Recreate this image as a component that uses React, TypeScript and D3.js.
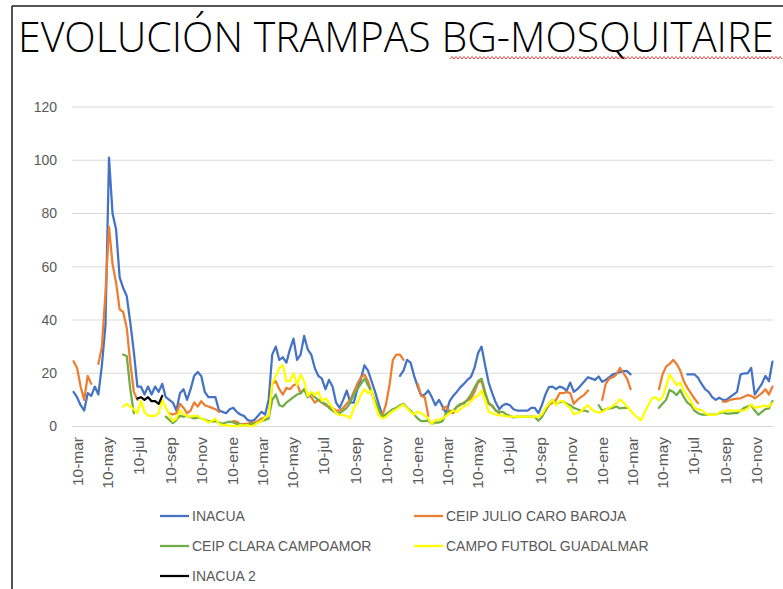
import * as d3 from "d3"

// Meses en castellano para las etiquetas del eje
const MESES = ["ene", "feb", "mar", "abr", "may", "jun", "jul", "ago", "sep", "oct", "nov", "dic"]

// Muestreo semanal, desde el 3 de marzo
const SEMANA_INICIAL = new Date(2016, 2, 3)
const N_SEMANAS = 198

const nulos = (n: number) => Array(n).fill(null)

const inacua = [
  13, 11, 8, 6, 12.5, 11.5, 15, 12, 23, 38,
  101, 80, 74, 56, 52, 49, 39, 28, 15, 15,
  12, 15, 12, 15, 13, 16, 11, 10, 9, 6,
  12.5, 14, 10, 14, 19, 20.5, 19, 13, 11, 11,
  11, 6, 5.5, 5, 6.5, 7, 5.5, 4.5, 4, 2.5,
  2, 2.5, 4, 5.5, 4.5, 10, 27, 30, 25, 26,
  24, 29, 33, 25, 27, 34, 29, 27, 22, 19,
  18, 14, 17.5, 15, 9, 7, 10, 13.5, 9, 9,
  14, 18, 23, 21, 17, 13, 8.5, 4.5, null, null,
  null, null, 19, 21, 25, 24, 19, 15, 11.5, 12,
  13.5, 11, 8, 10, 7.5, 5, 9.5, 11.5, 13, 14.7,
  16, 17.5, 18.6, 22, 27.5, 30, 23, 16.5, 12.5, 9,
  6.5, 8, 8.5, 8, 6.5, 6, 6, 6, 6, 7,
  7, 5, 8, 12, 14.8, 15, 14, 15, 14.5, 13.5,
  16.5, 13, 14, 15.5, 17, 18.5, 18, 17.5, 18.8, 16.8,
  17.5, 18.5, 19.6, 20, 20.4, 20.8, 20.8, 19.6, null, null,
  ...nulos(10),
  null, null, null, 19.6, 19.6, 19.6, 18.3, 16, 14, 13,
  11, 10, 10.8, 10, 10, 11, 12, 13, 19.5, 20,
  20, 22, 12, 14, 16, 19, 17, 24.4,
]

const ceipJulioCaroBaroja = [
  24.5, 22, 15, 10, 19, 16, null, 23.5, 30, 50,
  75, 61, 54, 44, 43, 37, 24, 13, 10, null,
  ...nulos(7), 5, 4.5, 5,
  8.5, 7, 5, 6, 9, 7.5, 9.5, 8, 7.5, 7,
  6.5, 5.5, null, null, null, 2, 1.8, 0.8, 1, 1,
  1.5, 1.5, 2, 3, 3.5, 4, 16, 17, 14, 12,
  14.5, 14, 15.5, 16, 12.5, 14, 12, 11, 9, 10,
  9, 8, 7.5, 7, 6, 6, 7, 8.5, 10, 13,
  16, 18.5, 19.5, 17, 13, 8.5, 5.5, 4, 8, 15,
  25, 27, 27, 25, null, null, null, 16, 11.5, 11,
  4, null, null, null, 6.5, 7.5, 5.5, 5, 7.5, 8,
  9, 9.8, 10.5, 13, 16.5, 17, 12, 9, 7.5, 6,
  5, ...nulos(9),
  null, null, null, 6, 8, 9, 10, 12.5, 12.5, 13,
  12.5, 8.5, 10, 11, 12, 13.5, null, null, null, 10,
  16, 18, 18.5, 19.5, 22, 20, 18, 14, null, null,
  ...nulos(5), 14, 19.5, 22.5, 23.5, 25,
  23.5, 21, 17, 14.5, 12.5, 10.5, 8.8, null, null, null,
  null, null, null, 9.3, 9.3, 10, 10.3, 10.5, 10.6, 11.2,
  11.8, 11.5, 10.6, 11.5, 12.5, 14, 12, 15,
]

const ceipClaraCampoamor = [
  ...nulos(10),
  null, null, null, null, 27, 26.5, 14, 5, null, null,
  ...nulos(6), 3.7, 2.5, 1.3, 2.5,
  4, 3.7, 4, 3.5, 3, 3.4, 3, 2.6, 2, 1.8,
  2, 1.5, 1, 1.5, 1.8, 1.5, 1, 0.8, 0.5, 0.5,
  1, 1, 1.5, 2, 2.5, 3, 10, 12, 8, 7.5,
  9, 10, 11, 12, 12.5, 14, 11, 12.5, 11, 10,
  9, 8.5, 7, 6, 5, 5, 6, 7, 9, 12,
  14, 16, 18, 15.5, 13, 9.5, 6.5, 3.5, 4.5, 5.5,
  6.5, 7, 8, 8.5, 7, 6, 4.5, 3, 2, 2,
  2.3, 1, 1.5, 1.5, 2, 5, 5.8, 6, 7.3, 8.5,
  8.6, 10, 12, 14.5, 17, 18, 13, 8.5, 8, 6,
  5.5, 5.5, 4.5, 4, 3.4, 3.7, 3.7, 3.7, 3.7, 3.7,
  3.7, 2.2, 3.5, 6, 8.6, 10, 8.5, 9, 9.5, 8.5,
  8, 7, 6.5, 6, 6, 5.6, null, null, 8, 6,
  6.5, 6.8, 7, 7.5, 6.8, 7, 7, null, null, null,
  ...nulos(5), 7, 8.5, 10, 13.7, 13,
  11.8, 13.7, 11, 9, 8, 6, 5, 4.5, 4.5, 4.5,
  4.5, 4.5, 5, 5.3, 4.8, 4.8, 5, 5, 6, 7,
  7.5, 8, 6, 4.4, 5.5, 6.5, 6.8, 9.6,
]

const campoFutbolGuadalmar = [
  ...nulos(10),
  null, null, null, null, 7.5, 8.5, 7.5, 6.5, 5, 9.5,
  5.5, 4, 4, 4, 5, 10, 7, 4.5, 2, 3,
  6, 4.5, 4, 3.7, 4, 4, 3, 2.5, 1.5, 2,
  3, 1, 0.5, 0.5, 0.3, 0.2, 0, 0.5, 0.3, 0.5,
  0, 0.5, 1.5, 2, 3.5, 4, 16, 19, 22, 23,
  17, 17, 20, 15.5, 19.5, 17, 11.5, 13, 11.8, 13,
  9.6, 10.5, 9, 7, 5, 4.3, 4.3, 4, 3, 7,
  9, 12, 14, 12.5, 13.5, 8, 4.3, 3, 3.5, 4.8,
  5.8, 6.5, 7.5, 8.3, 6.8, 5.5, 4.5, 5.6, 5, 4,
  3, 1, 2.5, 2.5, 3, 4, 5, 6, 5.5, 6.5,
  7.5, 8, 9.5, 11, 11.5, 13.5, 10, 5.5, 5, 4.5,
  4.2, 4.2, 3.8, 3.7, 3.7, 3.7, 3.7, 3.7, 3.7, 3.7,
  3.7, 3.7, 4.5, 7, 8.5, 10, 8, 9.5, 9.5, 8,
  7, 4.6, 5, 5.6, 7, 8, 6.5, 5.6, 5.3, 5.5,
  6.3, 7, 7.8, 8.6, 10.2, 9, 7.5, 6, 4.5, 3.3,
  2.3, 5.5, 8, 10.5, 11, 9.8, 11, 15, 19.5, 17.5,
  15.5, 16.5, 13.5, 11.5, 9.5, 7, 6.5, 6.2, 5, 4.4,
  4.4, 4.4, 5.3, 5.6, 6, 6, 6, 6, 6, 6,
  6.8, 8.3, 7, 7.3, 7.6, 7.8, 7.5, 8.8,
]

const inacua2 = [
  ...nulos(18),
  10.5, 11, 10, 11, 9.5, 9.5, 8.5, 11.5,
  ...nulos(N_SEMANAS - 26),
]

const SERIES = [
  { nombre: "INACUA", valores: inacua, color: "#4472C4" },
  { nombre: "CEIP JULIO CARO BAROJA", valores: ceipJulioCaroBaroja, color: "#ED7D31" },
  { nombre: "CEIP CLARA CAMPOAMOR", valores: ceipClaraCampoamor, color: "#70AD47" },
  { nombre: "CAMPO FUTBOL GUADALMAR", valores: campoFutbolGuadalmar, color: "#FFFF00" },
  { nombre: "INACUA 2", valores: inacua2, color: "#000000" },
]

const Y_TICKS = [0, 20, 40, 60, 80, 100, 120]

const W = 783
const H = 589
const FONT = "'Liberation Sans', Arial, sans-serif"

export default function App() {
  const fechas = d3.range(N_SEMANAS).map((i) => d3.timeDay.offset(SEMANA_INICIAL, 7 * i))

  const x = d3
    .scaleTime()
    .domain([new Date(2016, 1, 29), new Date(2019, 11, 13)])
    .range([72, 773])
  const y = d3.scaleLinear().domain([0, 120]).range([426.5, 107])

  // ticks el día 10 de cada dos meses (mar, may, jul...)
  const xTicks = d3
    .timeMonth.every(2)!
    .range(new Date(2016, 1, 1), new Date(2019, 11, 1))
    .map((d) => new Date(d.getFullYear(), d.getMonth(), 10))

  const linea = d3
    .line<number | null>()
    .defined((v) => v != null)
    .x((_, i) => x(fechas[i]))
    .y((v) => y(v as number))

  // subrayado ondulado del corrector ortográfico
  const ondas = d3.range(450, 784, 2).map((px, i) => [px, i % 2 ? 56.5 : 59] as [number, number])
  const ondaPath = d3.line()(ondas) || ""

  const legend = [
    { s: SERIES[0], lx: 160, ly: 516 },
    { s: SERIES[1], lx: 414, ly: 516 },
    { s: SERIES[2], lx: 160, ly: 546 },
    { s: SERIES[3], lx: 414, ly: 546 },
    { s: SERIES[4], lx: 160, ly: 576 },
  ]

  return (
    <svg
      width={W}
      height={H}
      style={{ position: "absolute", left: 0, top: 0, background: "#fff" }}
      fontFamily={FONT}
    >
      {/* marco */}
      <line x1={12} y1={6} x2={W} y2={6} stroke="#1a1a1a" strokeWidth={1.5} />
      <line x1={12} y1={6} x2={12} y2={H} stroke="#1a1a1a" strokeWidth={1.5} />

      <text
        x={18}
        y={52}
        fontSize={43}
        fontFamily="'Open Sans', 'Liberation Sans', sans-serif"
        fontWeight={300}
        textLength={756}
        lengthAdjust="spacingAndGlyphs"
        fill="#000"
      >
        EVOLUCIÓN TRAMPAS BG-MOSQUITAIRE
      </text>
      <path d={ondaPath} fill="none" stroke="#e03030" strokeWidth={0.9} />

      {/* rejilla y eje Y */}
      {Y_TICKS.map((t) => (
        <g key={t}>
          <line x1={72} x2={773} y1={y(t)} y2={y(t)} stroke="#D9D9D9" strokeWidth={1} />
          <text x={57} y={y(t)} dy="0.35em" textAnchor="end" fontSize={14} fill="#595959">
            {t}
          </text>
        </g>
      ))}

      {/* eje X */}
      {xTicks.map((d) => (
        <text
          key={+d}
          transform={`translate(${x(d)},437) rotate(-90)`}
          dy="0.35em"
          textAnchor="end"
          fontSize={15.5}
          fill="#595959"
        >
          {`10-${MESES[d.getMonth()]}`}
        </text>
      ))}

      {/* series */}
      {SERIES.map((s) => (
        <path
          key={s.nombre}
          d={linea(s.valores) || ""}
          fill="none"
          stroke={s.color}
          strokeWidth={2.25}
          strokeLinejoin="round"
          strokeLinecap="round"
        />
      ))}

      {/* leyenda */}
      {legend.map(({ s, lx, ly }) => (
        <g key={s.nombre}>
          <line x1={lx} x2={lx + 29} y1={ly} y2={ly} stroke={s.color} strokeWidth={2.25} />
          <text x={lx + 32} y={ly} dy="0.35em" fontSize={14} fill="#595959">
            {s.nombre}
          </text>
        </g>
      ))}
    </svg>
  )
}
